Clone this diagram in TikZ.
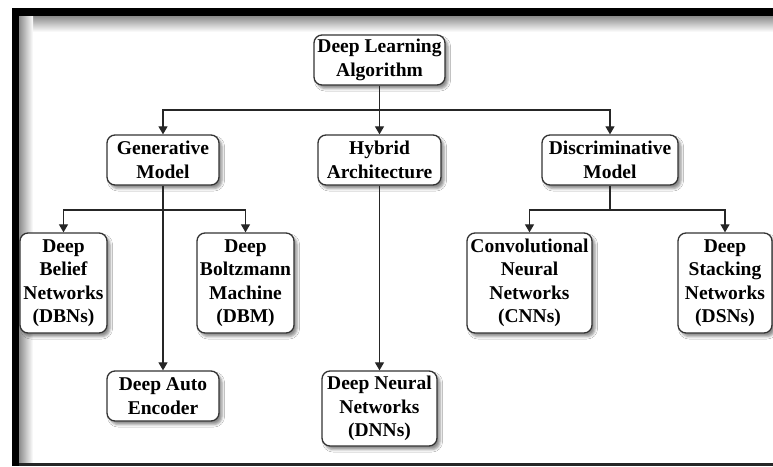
\documentclass[tikz,border=0pt]{standalone}
\usepackage{fontspec}
\setmainfont{Liberation Serif}
\usetikzlibrary{arrows.meta,shadows.blur}

\begin{document}
\begin{tikzpicture}[x=1pt,y=-1pt,
  box/.style={draw=black!80, line width=1.3pt, rounded corners=8pt, fill=white,
    inner sep=0pt, align=center,
    font=\fontsize{19.5}{23.5}\selectfont\bfseries,
    blur shadow={shadow xshift=3pt, shadow yshift=-3.5pt, shadow blur radius=2.5pt, shadow opacity=45}},
  link/.style={draw=black!85, line width=1.2pt},
  arr/.style={link, -{Triangle[length=8pt,width=9pt]}}]

  % canvas
  \useasboundingbox (0,0) rectangle (773,466);
  \fill[white] (0,0) rectangle (773,466);

  % inner shade of the frame
  \shade[top color=black!45, bottom color=white] (19,16) rectangle (773,32);
  \shade[left color=black!45, right color=white] (19,16) rectangle (33,463);
  % frame
  \fill[black] (12,8) rectangle (773,16);
  \fill[black] (12,8) rectangle (19,466);
  \fill[black!85] (19,463) rectangle (773,466);

  % nodes
  \node[box, minimum width=131pt, minimum height=50pt] (dla) at (379.5,60) {Deep Learning\\Algorithm};
  \node[box, minimum width=112pt, minimum height=50pt] (gen) at (163,160) {Generative\\Model};
  \node[box, minimum width=123pt, minimum height=50pt] (hyb) at (379.5,160) {Hybrid\\Architecture};
  \node[box, minimum width=136pt, minimum height=50pt] (dis) at (610,160) {Discriminative\\Model};

  \node[box, minimum width=87pt, minimum height=100pt] (dbn) at (63.5,283) {Deep\\Belief\\Networks\\(DBNs)};
  \node[box, minimum width=97pt, minimum height=100pt] (dbm) at (245.5,283) {Deep\\Boltzmann\\Machine\\(DBM)};
  \node[box, minimum width=112pt, minimum height=50pt] (dae) at (163,396) {Deep Auto\\Encoder};
  \node[box, minimum width=115pt, minimum height=75pt] (dnn) at (379.5,408.5) {Deep Neural\\Networks\\(DNNs)};
  \node[box, minimum width=125pt, minimum height=100pt] (cnn) at (529.5,283) {Convolutional\\Neural\\Networks\\(CNNs)};
  \node[box, minimum width=94pt, minimum height=100pt] (dsn) at (725,283) {Deep\\Stacking\\Networks\\(DSNs)};

  % junctions
  \coordinate (j1) at (379.5,110);
  \coordinate (j2) at (163,210);
  \coordinate (j3) at (610,210);

  % connectors
  \draw[link] (dla.south) -- (j1);
  \draw[arr] (j1) -| (gen.north);
  \draw[arr] (j1) -- (hyb.north);
  \draw[arr] (j1) -| (dis.north);

  \draw[arr] (gen.south) -- (dae.north);
  \draw[arr] (j2) -| (dbn.north);
  \draw[arr] (j2) -| (dbm.north);

  \draw[arr] (hyb.south) -- (dnn.north);

  \draw[link] (dis.south) -- (j3);
  \draw[arr] (j3) -| (cnn.north);
  \draw[arr] (j3) -| (dsn.north);
\end{tikzpicture}
\end{document}
